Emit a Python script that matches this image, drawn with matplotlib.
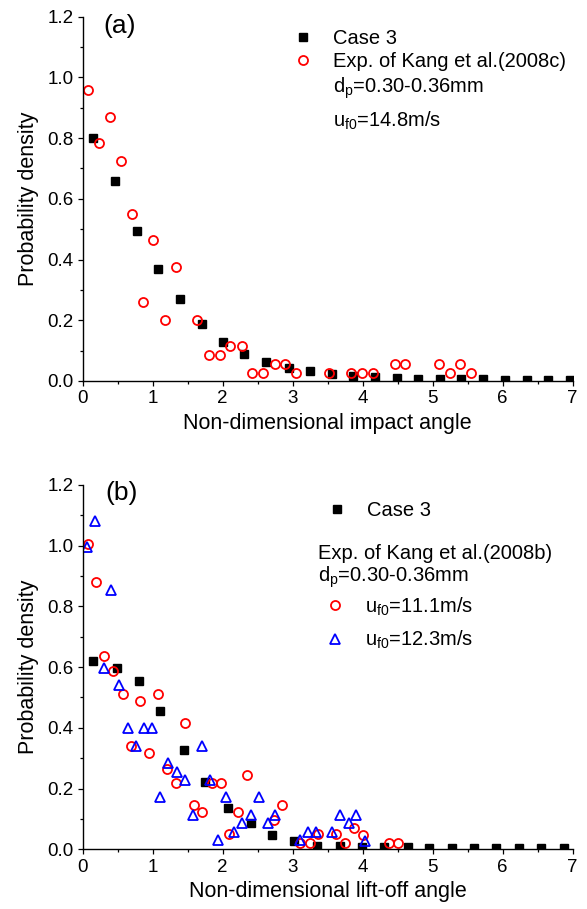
import numpy as np
import matplotlib
matplotlib.use("Agg")
import matplotlib.pyplot as plt
from matplotlib.legend import Legend
from matplotlib.ticker import MultipleLocator, FormatStrFormatter

plt.rcParams["font.family"] = ["Liberation Sans", "DejaVu Sans"]
plt.rcParams["mathtext.fontset"] = "custom"
plt.rcParams["mathtext.rm"] = "Liberation Sans"
plt.rcParams["mathtext.it"] = "Liberation Sans:italic"

# (a) impact angle
case3_a_x = [0.14, 0.46, 0.77, 1.08, 1.39, 1.70, 2.01, 2.31, 2.62, 2.94, 3.24, 3.56, 3.86,
             4.18, 4.49, 4.79, 5.10, 5.41, 5.72, 6.03, 6.34, 6.65, 6.96]
case3_a_y = [0.800, 0.657, 0.495, 0.368, 0.271, 0.187, 0.128, 0.090, 0.062, 0.043, 0.033,
             0.022, 0.016, 0.012, 0.010, 0.008, 0.007, 0.006, 0.005, 0.004, 0.003, 0.003, 0.003]
exp_a_x = [0.08, 0.23, 0.39, 0.55, 0.70, 0.86, 1.01, 1.17, 1.33, 1.63, 1.80, 1.96, 2.11,
           2.27, 2.42, 2.58, 2.74, 2.89, 3.05, 3.52, 3.83, 3.99, 4.14, 4.46, 4.61, 5.09,
           5.24, 5.39, 5.55]
exp_a_y = [0.958, 0.783, 0.871, 0.725, 0.551, 0.260, 0.465, 0.201, 0.377, 0.201, 0.086,
           0.086, 0.115, 0.115, 0.027, 0.027, 0.057, 0.057, 0.027, 0.027, 0.027, 0.027,
           0.027, 0.057, 0.057, 0.057, 0.027, 0.057, 0.027]

# (b) lift-off angle
case3_b_x = [0.15, 0.49, 0.80, 1.11, 1.44, 1.75, 2.07, 2.40, 2.71, 3.02, 3.34, 3.67, 3.99,
             4.31, 4.64, 4.95, 5.27, 5.59, 5.91, 6.23, 6.55, 6.87]
case3_b_y = [0.621, 0.598, 0.554, 0.455, 0.326, 0.223, 0.136, 0.087, 0.048, 0.027, 0.012,
             0.010, 0.008, 0.008, 0.006, 0.004, 0.004, 0.004, 0.004, 0.004, 0.004, 0.004]
exp111_x = [0.07, 0.19, 0.31, 0.43, 0.57, 0.69, 0.82, 0.95, 1.08, 1.20, 1.33, 1.46, 1.59,
            1.71, 1.84, 1.97, 2.09, 2.22, 2.35, 2.73, 2.85, 3.10, 3.24, 3.36, 3.62, 3.75,
            3.88, 4.00, 4.38, 4.51]
exp111_y = [1.005, 0.881, 0.637, 0.586, 0.513, 0.341, 0.488, 0.316, 0.513, 0.265, 0.219,
            0.415, 0.146, 0.122, 0.217, 0.219, 0.049, 0.122, 0.244, 0.096, 0.146, 0.020,
            0.022, 0.049, 0.049, 0.022, 0.071, 0.048, 0.022, 0.022]
exp123_x = [0.06, 0.18, 0.30, 0.40, 0.52, 0.64, 0.76, 0.88, 0.99, 1.11, 1.22, 1.34, 1.46,
            1.58, 1.70, 1.82, 1.93, 2.04, 2.16, 2.28, 2.40, 2.52, 2.64, 2.75, 3.10, 3.22,
            3.33, 3.56, 3.68, 3.80, 3.91, 4.03]
exp123_y = [0.997, 1.082, 0.598, 0.854, 0.540, 0.399, 0.341, 0.399, 0.399, 0.173, 0.283,
            0.256, 0.228, 0.113, 0.341, 0.228, 0.031, 0.173, 0.058, 0.086, 0.113, 0.173,
            0.086, 0.113, 0.031, 0.058, 0.058, 0.056, 0.113, 0.086, 0.113, 0.028]

FS_TICK = 13.5
FS_LABEL = 15.5
FS_LEG = 14.5

fig = plt.figure(figsize=(5.87, 9.09), dpi=100)
ax_a = fig.add_axes([0.1409, 0.5809, 0.8348, 0.4008])
ax_b = fig.add_axes([0.1409, 0.0657, 0.8348, 0.4008])

sq = dict(linestyle="none", marker="s", markersize=5.5, color="black")
circ = dict(linestyle="none", marker="o", markersize=6.5, markerfacecolor="none",
            markeredgecolor="red", markeredgewidth=1.3)
tri = dict(linestyle="none", marker="^", markersize=7, markerfacecolor="none",
           markeredgecolor="blue", markeredgewidth=1.3)

ha1, = ax_a.plot(case3_a_x, case3_a_y, **sq)
ha2, = ax_a.plot(exp_a_x, exp_a_y, **circ)

hb1, = ax_b.plot(case3_b_x, case3_b_y, **sq)
hb2, = ax_b.plot(exp111_x, exp111_y, **circ)
hb3, = ax_b.plot(exp123_x, exp123_y, **tri)


def style_axes(ax, xlabel):
    ax.set_xlim(0, 7)
    ax.set_ylim(0, 1.2)
    ax.xaxis.set_major_locator(MultipleLocator(1))
    ax.xaxis.set_minor_locator(MultipleLocator(0.5))
    ax.yaxis.set_major_locator(MultipleLocator(0.2))
    ax.yaxis.set_minor_locator(MultipleLocator(0.1))
    ax.yaxis.set_major_formatter(FormatStrFormatter("%.1f"))
    for s in ["top", "right"]:
        ax.spines[s].set_visible(False)
    for s in ["left", "bottom"]:
        ax.spines[s].set_linewidth(1.0)
    ax.tick_params(which="major", direction="out", length=3.8, width=0.9,
                   labelsize=FS_TICK, pad=3)
    ax.tick_params(which="minor", direction="out", length=2.4, width=0.9)
    ax.set_xlabel(xlabel, fontsize=FS_LABEL, labelpad=4)
    ax.set_ylabel("Probability density", fontsize=FS_LABEL, labelpad=6)


def add_key(ax, handle, label, x, y):
    # one legend per row so each key can sit where it does in the figure
    leg = Legend(ax, [handle], [label], loc="center left", bbox_to_anchor=(x, y),
                 frameon=False, borderpad=0, borderaxespad=0, handlelength=1.0,
                 handletextpad=0.98, fontsize=FS_LEG, numpoints=1)
    ax.add_artist(leg)


style_axes(ax_a, "Non-dimensional impact angle")
style_axes(ax_b, "Non-dimensional lift-off angle")

ax_a.text(0.076, 0.974, "(a)", transform=ax_a.transAxes, fontsize=19,
          ha="center", va="center")
ax_b.text(0.080, 0.978, "(b)", transform=ax_b.transAxes, fontsize=19,
          ha="center", va="center")

# legend (a)
add_key(ax_a, ha1, "Case 3", 0.430, 0.941)
add_key(ax_a, ha2, "Exp. of Kang et al.(2008c)", 0.430, 0.878)
ax_a.text(0.511, 0.790, r"d$_\mathrm{p}$=0.30-0.36mm", transform=ax_a.transAxes,
          fontsize=FS_LEG, ha="left", va="baseline")
ax_a.text(0.511, 0.698, r"u$_\mathrm{f0}$=14.8m/s", transform=ax_a.transAxes,
          fontsize=FS_LEG, ha="left", va="baseline")

# legend (b)
add_key(ax_b, hb1, "Case 3", 0.498, 0.931)
ax_b.text(0.481, 0.798, "Exp. of Kang et al.(2008b)", transform=ax_b.transAxes,
          fontsize=FS_LEG, ha="left", va="baseline")
ax_b.text(0.481, 0.734, r"d$_\mathrm{p}$=0.30-0.36mm", transform=ax_b.transAxes,
          fontsize=FS_LEG, ha="left", va="baseline")
add_key(ax_b, hb2, r"u$_\mathrm{f0}$=11.1m/s", 0.494, 0.666)
add_key(ax_b, hb3, r"u$_\mathrm{f0}$=12.3m/s", 0.494, 0.575)

fig.savefig("out.png", dpi=100)
